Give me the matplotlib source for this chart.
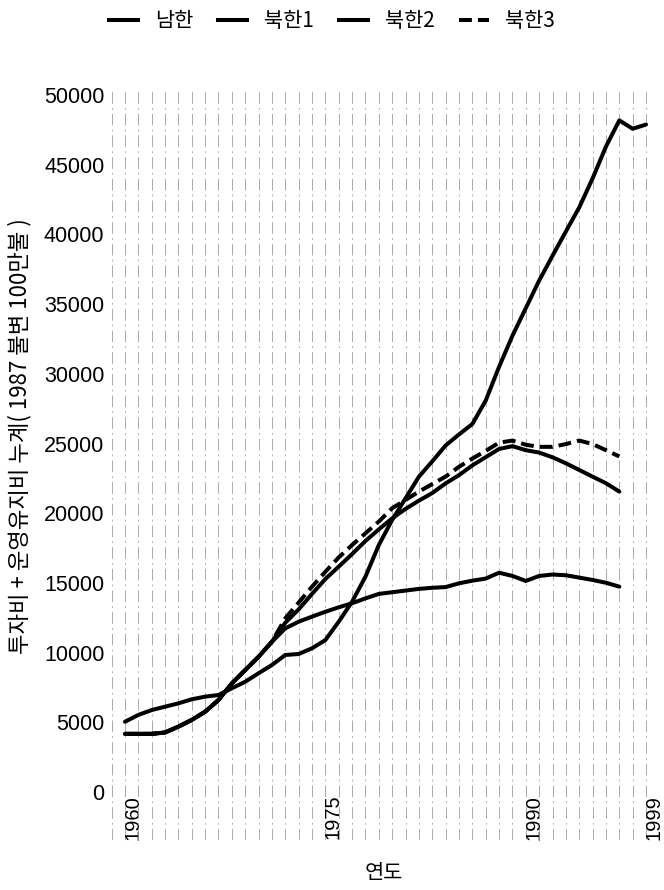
import matplotlib
matplotlib.use('Agg')
import matplotlib.pyplot as plt
from matplotlib.ticker import MultipleLocator
from matplotlib.lines import Line2D
from matplotlib.transforms import ScaledTranslation

# ---------------- data ----------------
years = list(range(1960, 2000))
south = [5040, 5530, 5880, 6120, 6360, 6650, 6840, 6960, 7440, 7910,
         8520, 9110, 9830, 9900, 10310, 10900, 12220, 13650, 15450, 17720,
         19520, 21070, 22620, 23720, 24860, 25650, 26400, 28080, 30500, 32730,
         34710, 36690, 38470, 40210, 41940, 44020, 46300, 48180, 47580, 47880]

north_years = list(range(1960, 1998))
north1 = [4170, 4170, 4170, 4270, 4690, 5170, 5760, 6600, 7790, 8750,
          9700, 10780, 11740, 12220, 12580, 12930, 13250, 13540, 13890, 14210,
          14330, 14450, 14570, 14650, 14700, 14970, 15160, 15310, 15730, 15500,
          15140, 15500, 15600, 15550, 15380, 15210, 15010, 14730]
north2 = [4170, 4170, 4170, 4270, 4690, 5170, 5760, 6600, 7790, 8750,
          9700, 10780, 12140, 13100, 14210, 15280, 16170, 17070, 18010, 18840,
          19630, 20310, 20900, 21450, 22140, 22730, 23430, 24020, 24610, 24810,
          24520, 24350, 24010, 23580, 23100, 22620, 22150, 21550]
north3 = [4170, 4170, 4170, 4270, 4690, 5170, 5760, 6600, 7790, 8750,
          9700, 10780, 12460, 13590, 14730, 15800, 16830, 17720, 18560, 19400,
          20360, 20950, 21550, 22090, 22630, 23330, 23920, 24470, 25060, 25210,
          24910, 24760, 24760, 24960, 25210, 24960, 24520, 24070]

series_labels = ['남한', '북한1', '북한2', '북한3']
xticks = [1960, 1975, 1990, 1999]
yticks = list(range(0, 50001, 5000))
ylabel = '투자비 + 운영유지비 누계( 1987 불변 100만불 )'
xlabel = '연도'

# ---------------- figure ----------------
W, H = 664, 890
fig = plt.figure(figsize=(W / 100, H / 100), dpi=100)
fig.patch.set_facecolor('white')

ax = fig.add_axes([110 / W, 1 - 840 / H, (655 - 110) / W, (840 - 90) / H])
ax.set_xlim(1958.88, 1999.67)
ax.set_ylim(-3443, 50359)

for s in ax.spines.values():
    s.set_visible(False)

# vertical dashed grid every year
ax.xaxis.set_minor_locator(MultipleLocator(1))
ax.grid(axis='x', which='both', color='0.62', lw=0.6,
        linestyle=(0, (14, 5, 2, 5)), zorder=0)
ax.grid(axis='y', visible=False)

lw = 2.9
kw = dict(color='black', lw=lw, solid_capstyle='round', solid_joinstyle='round')
ax.plot(north_years, north3, color='black', lw=lw, linestyle=(0, (3.2, 1.5)),
        dash_capstyle='butt', zorder=2)
ax.plot(north_years, north1, zorder=3, **kw)
ax.plot(north_years, north2, zorder=3, **kw)
ax.plot(years, south, zorder=3, **kw)

# ticks
ax.set_xticks(xticks)
ax.set_xticklabels([str(t) for t in xticks], rotation=90,
                   fontsize=14.5, family=['Liberation Sans', 'DejaVu Sans'])
ax.tick_params(axis='x', which='both', length=0, pad=-32.5)
shift = ScaledTranslation(8 / 100, 0, fig.dpi_scale_trans)
for lbl in ax.get_xticklabels():
    lbl.set_transform(lbl.get_transform() + shift)
ax.set_yticks(yticks)
ax.set_yticklabels([str(t) for t in yticks], fontsize=15.5,
                   family=['Liberation Sans', 'DejaVu Sans'])
ax.tick_params(axis='y', length=0, pad=4.0)

# axis labels
fig.text(20 / W, 1 - 436 / H, ylabel, rotation=90, ha='center', va='center',
         fontsize=16, family=['Noto Sans CJK KR', 'DejaVu Sans'])
fig.text(384 / W, 1 - 873 / H, xlabel, ha='center', va='center',
         fontsize=15, family=['Noto Sans CJK KR', 'DejaVu Sans'])

# legend
handles = [Line2D([], [], color='black', lw=lw),
           Line2D([], [], color='black', lw=lw),
           Line2D([], [], color='black', lw=lw),
           Line2D([], [], color='black', lw=lw, linestyle=(0, (3.2, 1.5)))]
fig.legend(handles, series_labels, loc='center', bbox_to_anchor=(332 / W, 1 - 21 / H),
           ncol=4, frameon=False, handlelength=1.4, handletextpad=0.8,
           columnspacing=1.2,
           prop={'family': ['Noto Sans CJK KR', 'DejaVu Sans'], 'size': 15})

fig.savefig('out.png', dpi=100, facecolor='white')
